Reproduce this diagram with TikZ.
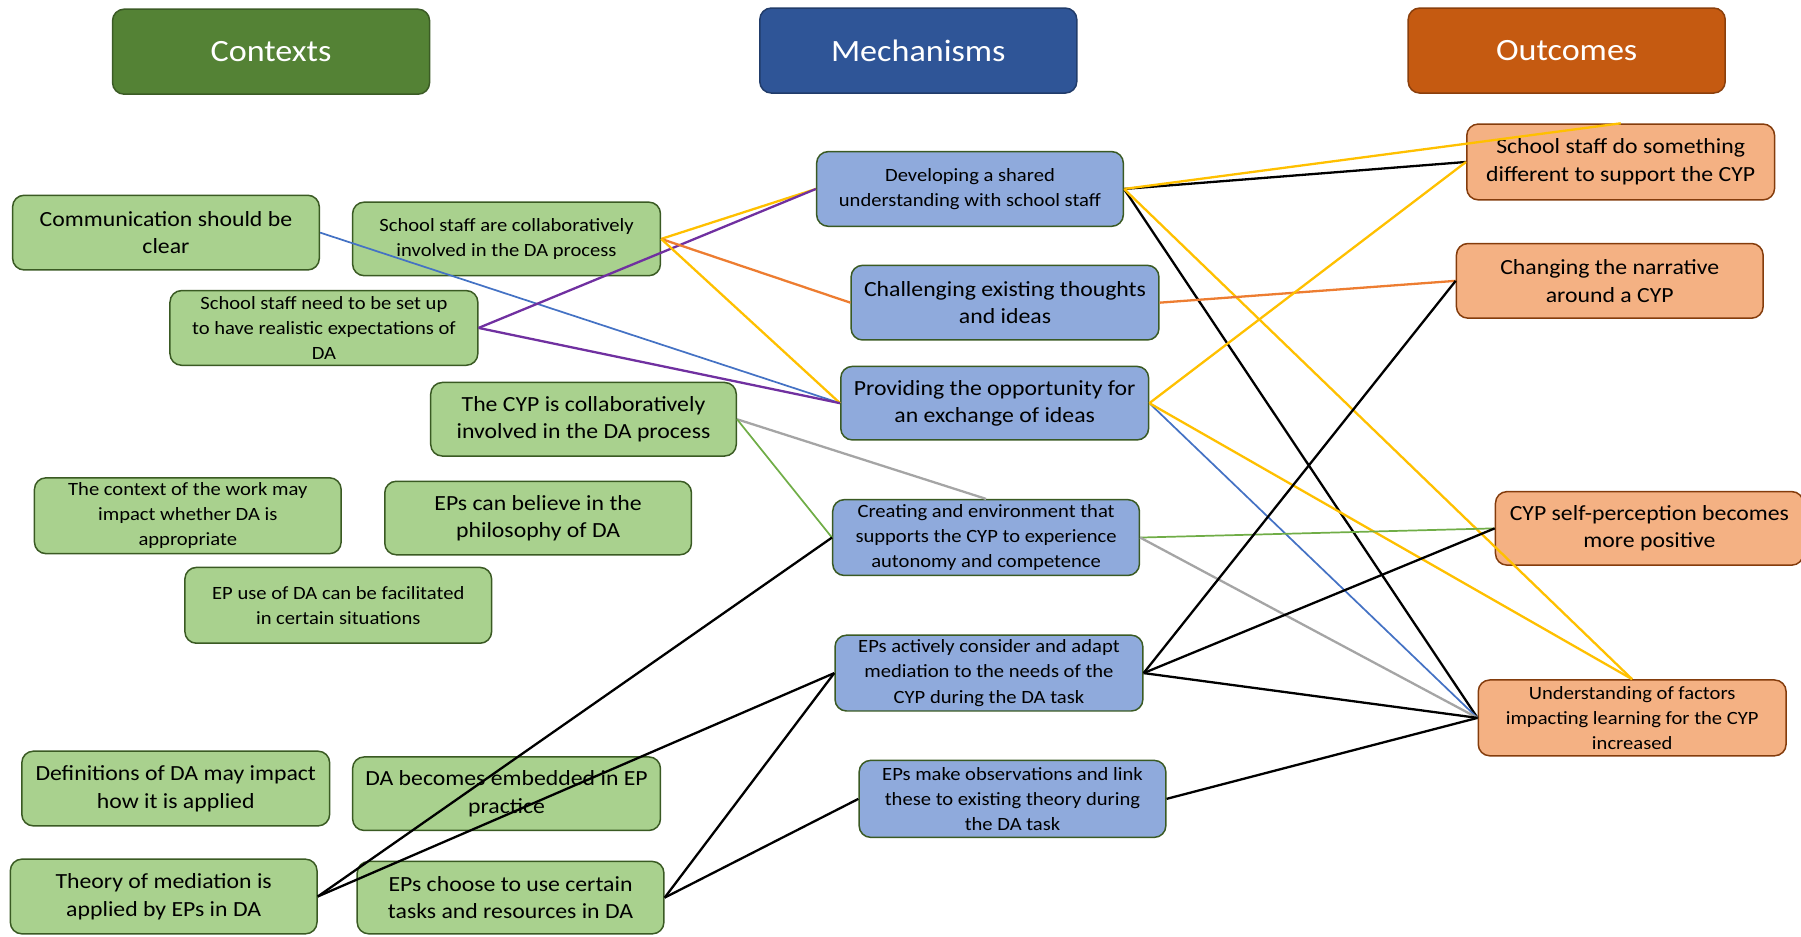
\documentclass[tikz,border=0pt]{standalone}
\usepackage{fontspec}
\setmainfont{Carlito}[FakeStretch=1.1]
\definecolor{hdgreen}{HTML}{548235}
\definecolor{hdblue}{HTML}{2F5597}
\definecolor{hdorange}{HTML}{C55A11}
\definecolor{ctxfill}{HTML}{A9D18E}
\definecolor{mechfill}{HTML}{8FAADC}
\definecolor{outfill}{HTML}{F4B183}
\definecolor{greenedge}{HTML}{3A5A23}
\definecolor{brownedge}{HTML}{843C0C}
\definecolor{lnyellow}{HTML}{FFC000}
\definecolor{lnorange}{HTML}{ED7D31}
\definecolor{lnpurple}{HTML}{7030A0}
\definecolor{lnblue}{HTML}{4472C4}
\definecolor{lngray}{HTML}{A5A5A5}
\definecolor{lngreen}{HTML}{70AD47}
\tikzset{
  box/.style={rounded corners=10pt, line width=1.3pt, align=center, inner sep=2pt},
  header/.style={box, text=white, font=\fontsize{27}{32}\selectfont, minimum width=276, minimum height=74},
  ctx/.style={box, draw=greenedge, fill=ctxfill},
  mech/.style={box, draw=greenedge, fill=mechfill},
  outc/.style={box, draw=brownedge, fill=outfill},
  big/.style={font=\fontsize{18.8}{24}\selectfont},
  small/.style={font=\fontsize{16.3}{22}\selectfont},
  wire/.style={line width=2pt},
  thinwire/.style={line width=1.5pt}
}
\begin{document}
\begin{tikzpicture}[x=1pt,y=-1pt]
\useasboundingbox (0,0) rectangle (1568,815);

% column headers
\node[header, fill=hdgreen, draw=hdgreen!70!black] (hctx) at (236,45) {Contexts};
\node[header, fill=hdblue, draw=hdblue!70!black] (hmech) at (799.5,44) {Mechanisms};
\node[header, fill=hdorange, draw=hdorange!70!black] (hout) at (1364,44) {Outcomes};

% contexts
\node[ctx, big, minimum width=267, minimum height=65] (c1) at (144.5,202.5) {Communication should be\\clear};
\node[ctx, small, minimum width=268, minimum height=64] (c2) at (441,208) {School staff are collaboratively\\involved in the DA process};
\node[ctx, small, minimum width=268, minimum height=65] (c3) at (282,285.5) {School staff need to be set up\\to have realistic expectations of\\DA};
\node[ctx, big, minimum width=266, minimum height=64] (c4) at (508,365) {The CYP is collaboratively\\involved in the DA process};
\node[ctx, small, minimum width=267, minimum height=66] (c5) at (163.5,449) {The context of the work may\\impact whether DA is\\appropriate};
\node[ctx, big, minimum width=267, minimum height=64] (c6) at (468.5,451) {EPs can believe in the\\philosophy of DA};
\node[ctx, small, minimum width=267, minimum height=66] (c7) at (294.5,527) {EP use of DA can be facilitated\\in certain situations};
\node[ctx, big, minimum width=268, minimum height=65] (c8) at (153,686.5) {Definitions of DA may impact\\how it is applied};
\node[ctx, big, minimum width=268, minimum height=64] (c9) at (441,691) {DA becomes embedded in EP\\practice};
\node[ctx, big, minimum width=267, minimum height=65] (c10) at (142.5,780.5) {Theory of mediation is\\applied by EPs in DA};
\node[ctx, big, minimum width=267, minimum height=63] (c11) at (444.5,781.5) {EPs choose to use certain\\tasks and resources in DA};

% mechanisms
\node[mech, small, minimum width=267, minimum height=65] (m1) at (844.5,164.5) {Developing a shared\\understanding with school staff};
\node[mech, big, minimum width=268, minimum height=65] (m2) at (875,263.5) {Challenging existing thoughts\\and ideas};
\node[mech, big, minimum width=268, minimum height=64] (m3) at (866,351) {Providing the opportunity for\\an exchange of ideas};
\node[mech, small, minimum width=267, minimum height=66] (m4) at (858.5,468) {Creating and environment that\\supports the CYP to experience\\autonomy and competence};
\node[mech, small, minimum width=268, minimum height=66] (m5) at (861,586) {EPs actively consider and adapt\\mediation to the needs of the\\CYP during the DA task};
\node[mech, small, minimum width=267, minimum height=67] (m6) at (881.5,695.5) {EPs make observations and link\\these to existing theory during\\the DA task};

% outcomes
\node[outc, big, minimum width=268, minimum height=66] (o1) at (1411,141) {School staff do something\\different to support the CYP};
\node[outc, big, minimum width=267, minimum height=65] (o2) at (1401.5,244.5) {Changing the narrative\\around a CYP};
\node[outc, big, minimum width=268, minimum height=64] (o3) at (1436,460) {CYP self-perception becomes\\more positive};
\node[outc, small, minimum width=268, minimum height=66] (o4) at (1421,625) {Understanding of factors\\impacting learning for the CYP\\increased};

% links from contexts to mechanisms
\draw[thinwire, lnblue] (c1.east) -- (m3.west);
\draw[wire, lnyellow] (c2.east) -- (m1.west);
\draw[wire, lnpurple] (c3.east) -- (m1.west);
\draw[wire, lnorange] (c2.east) -- (m2.west);
\draw[wire, lnyellow] (c2.east) -- (m3.west);
\draw[wire, lnpurple] (c3.east) -- (m3.west);
\draw[wire, lngray] (c4.east) -- (m4.north);
\draw[thinwire, lngreen] (c4.east) -- (m4.west);
\draw[wire, black] (c10.east) -- (m4.west);
\draw[wire, black] (c10.east) -- (m5.west);
\draw[wire, black] (c11.east) -- (m5.west);
\draw[wire, black] (c11.east) -- (m6.west);

% links from mechanisms to outcomes
\draw[wire, black] (m1.east) -- (o1.west);
\draw[wire, lnyellow] (m1.east) -- (o1.north);
\draw[wire, black] (m1.east) -- (o4.west);
\draw[wire, lnyellow] (m1.east) -- (o4.north);
\draw[wire, lnorange] (m2.east) -- (o2.west);
\draw[wire, lnyellow] (m3.east) -- (o1.west);
\draw[thinwire, lnblue] (m3.east) -- (o4.west);
\draw[wire, lnyellow] (m3.east) -- (o4.north);
\draw[thinwire, lngreen] (m4.east) -- (o3.west);
\draw[wire, lngray] (m4.east) -- (o4.west);
\draw[wire, black] (m5.east) -- (o2.west);
\draw[wire, black] (m5.east) -- (o3.west);
\draw[wire, black] (m5.east) -- (o4.west);
\draw[wire, black] (m6.east) -- (o4.west);
\end{tikzpicture}
\end{document}
